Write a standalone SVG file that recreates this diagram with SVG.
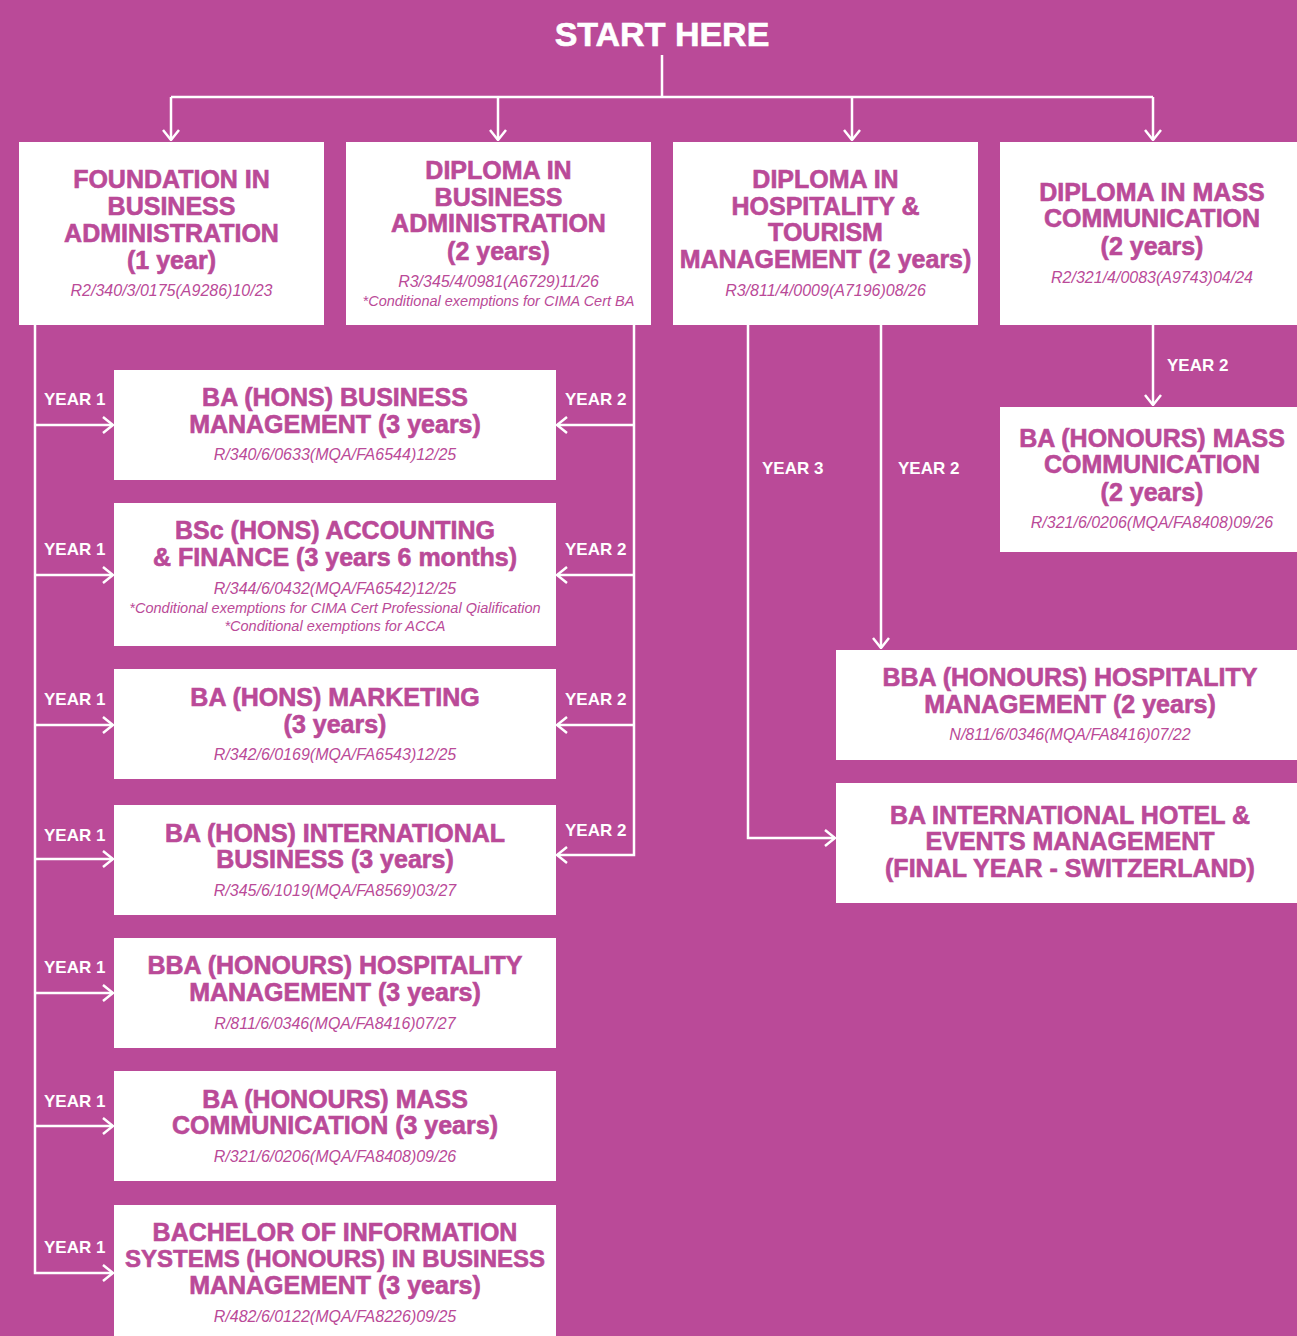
<svg xmlns="http://www.w3.org/2000/svg" width="1297" height="1336" viewBox="0 0 1297 1336">
<defs>
<style>
.bg{fill:#BA4A98}
.box{fill:#FFFFFF}
.t{font-family:"Liberation Sans",Arial,sans-serif;font-weight:bold;font-size:25px;fill:#BA4A98;stroke:#BA4A98;stroke-width:0.6;text-anchor:middle}
.c{font-family:"Liberation Sans",Arial,sans-serif;font-style:italic;font-size:16px;fill:#BA4A98;text-anchor:middle}
.n{font-family:"Liberation Sans",Arial,sans-serif;font-style:italic;font-size:14.5px;fill:#BA4A98;text-anchor:middle}
.y{font-family:"Liberation Sans",Arial,sans-serif;font-weight:bold;font-size:17px;fill:#FFFFFF}
.h{font-family:"Liberation Sans",Arial,sans-serif;font-weight:bold;font-size:34px;fill:#FFFFFF;stroke:#FFFFFF;stroke-width:0.6;text-anchor:middle}
.ln{fill:none;stroke:#FFFFFF;stroke-width:2.5}
</style>
<marker id="ah" viewBox="0 0 12 18" refX="11" refY="9" markerWidth="12" markerHeight="18" markerUnits="userSpaceOnUse" orient="auto">
<path d="M1,1 L11,9 L1,17" fill="none" stroke="#FFFFFF" stroke-width="2.5"/>
</marker>
</defs>
<rect class="bg" x="0" y="0" width="1297" height="1336"/>
<text class="h" x="662" y="46">START HERE</text>

<g id="connectors">
<path class="ln" d="M662,55 V97 M171,97 H1153"/>
<path class="ln" d="M171,97 V140" marker-end="url(#ah)"/>
<path class="ln" d="M498,97 V140" marker-end="url(#ah)"/>
<path class="ln" d="M852,97 V140" marker-end="url(#ah)"/>
<path class="ln" d="M1153,97 V140" marker-end="url(#ah)"/>
<path class="ln" d="M35,325 V1273 H113" marker-end="url(#ah)"/>
<path class="ln" d="M35,425 H113" marker-end="url(#ah)"/>
<path class="ln" d="M35,575 H113" marker-end="url(#ah)"/>
<path class="ln" d="M35,725 H113" marker-end="url(#ah)"/>
<path class="ln" d="M35,859 H113" marker-end="url(#ah)"/>
<path class="ln" d="M35,993 H113" marker-end="url(#ah)"/>
<path class="ln" d="M35,1126 H113" marker-end="url(#ah)"/>
<path class="ln" d="M634,325 V855 H557" marker-end="url(#ah)"/>
<path class="ln" d="M634,425 H557" marker-end="url(#ah)"/>
<path class="ln" d="M634,575 H557" marker-end="url(#ah)"/>
<path class="ln" d="M634,725 H557" marker-end="url(#ah)"/>
<path class="ln" d="M748,325 V838 H835" marker-end="url(#ah)"/>
<path class="ln" d="M881,325 V648" marker-end="url(#ah)"/>
<path class="ln" d="M1153,325 V405" marker-end="url(#ah)"/>
<text class="y" x="44" y="405">YEAR 1</text>
<text class="y" x="44" y="555">YEAR 1</text>
<text class="y" x="44" y="705">YEAR 1</text>
<text class="y" x="44" y="841">YEAR 1</text>
<text class="y" x="44" y="973">YEAR 1</text>
<text class="y" x="44" y="1107">YEAR 1</text>
<text class="y" x="44" y="1253">YEAR 1</text>
<text class="y" x="565" y="405">YEAR 2</text>
<text class="y" x="565" y="555">YEAR 2</text>
<text class="y" x="565" y="705">YEAR 2</text>
<text class="y" x="565" y="836">YEAR 2</text>
<text class="y" x="762" y="474">YEAR 3</text>
<text class="y" x="898" y="474">YEAR 2</text>
<text class="y" x="1167" y="371">YEAR 2</text>
</g>

<g id="foundation">
<rect class="box" x="19" y="142" width="305" height="183"/>
<text class="t" x="171.5" y="188">FOUNDATION IN</text>
<text class="t" x="171.5" y="215">BUSINESS</text>
<text class="t" x="171.5" y="242">ADMINISTRATION</text>
<text class="t" x="171.5" y="269">(1 year)</text>
<text class="c" x="171.5" y="296">R2/340/3/0175(A9286)10/23</text>
</g>

<g id="dip-business">
<rect class="box" x="346" y="142" width="305" height="183"/>
<text class="t" x="498.5" y="179">DIPLOMA IN</text>
<text class="t" x="498.5" y="206">BUSINESS</text>
<text class="t" x="498.5" y="232">ADMINISTRATION</text>
<text class="t" x="498.5" y="260">(2 years)</text>
<text class="c" x="498.5" y="287">R3/345/4/0981(A6729)11/26</text>
<text class="n" x="498.5" y="306">*Conditional exemptions for CIMA Cert BA</text>
</g>

<g id="dip-hospitality">
<rect class="box" x="673" y="142" width="305" height="183"/>
<text class="t" x="825.5" y="188">DIPLOMA IN</text>
<text class="t" x="825.5" y="215">HOSPITALITY &amp;</text>
<text class="t" x="825.5" y="241">TOURISM</text>
<text class="t" x="825.5" y="268">MANAGEMENT (2 years)</text>
<text class="c" x="825.5" y="296">R3/811/4/0009(A7196)08/26</text>
</g>

<g id="dip-mass">
<rect class="box" x="1000" y="142" width="297" height="183"/>
<text class="t" x="1152" y="201">DIPLOMA IN MASS</text>
<text class="t" x="1152" y="227">COMMUNICATION</text>
<text class="t" x="1152" y="255">(2 years)</text>
<text class="c" x="1152" y="283">R2/321/4/0083(A9743)04/24</text>
</g>

<g id="ba-business">
<rect class="box" x="114" y="370" width="442" height="110"/>
<text class="t" x="335" y="406">BA (HONS) BUSINESS</text>
<text class="t" x="335" y="433">MANAGEMENT (3 years)</text>
<text class="c" x="335" y="460">R/340/6/0633(MQA/FA6544)12/25</text>
</g>

<g id="bsc-accounting">
<rect class="box" x="114" y="503" width="442" height="143"/>
<text class="t" x="335" y="539">BSc (HONS) ACCOUNTING</text>
<text class="t" x="335" y="566">&amp; FINANCE (3 years 6 months)</text>
<text class="c" x="335" y="594">R/344/6/0432(MQA/FA6542)12/25</text>
<text class="n" x="335" y="613">*Conditional exemptions for CIMA Cert Professional Qialification</text>
<text class="n" x="335" y="631">*Conditional exemptions for ACCA</text>
</g>

<g id="ba-marketing">
<rect class="box" x="114" y="669" width="442" height="110"/>
<text class="t" x="335" y="706">BA (HONS) MARKETING</text>
<text class="t" x="335" y="733">(3 years)</text>
<text class="c" x="335" y="760">R/342/6/0169(MQA/FA6543)12/25</text>
</g>

<g id="ba-intl-business">
<rect class="box" x="114" y="805" width="442" height="110"/>
<text class="t" x="335" y="842">BA (HONS) INTERNATIONAL</text>
<text class="t" x="335" y="868">BUSINESS (3 years)</text>
<text class="c" x="335" y="896">R/345/6/1019(MQA/FA8569)03/27</text>
</g>

<g id="bba-hosp-3">
<rect class="box" x="114" y="938" width="442" height="110"/>
<text class="t" x="335" y="974">BBA (HONOURS) HOSPITALITY</text>
<text class="t" x="335" y="1001">MANAGEMENT (3 years)</text>
<text class="c" x="335" y="1029">R/811/6/0346(MQA/FA8416)07/27</text>
</g>

<g id="ba-mass-3">
<rect class="box" x="114" y="1071" width="442" height="110"/>
<text class="t" x="335" y="1108">BA (HONOURS) MASS</text>
<text class="t" x="335" y="1134">COMMUNICATION (3 years)</text>
<text class="c" x="335" y="1162">R/321/6/0206(MQA/FA8408)09/26</text>
</g>

<g id="bis">
<rect class="box" x="114" y="1205" width="442" height="131"/>
<text class="t" x="335" y="1241">BACHELOR OF INFORMATION</text>
<text class="t" x="335" y="1267" style="font-size:24px">SYSTEMS (HONOURS) IN BUSINESS</text>
<text class="t" x="335" y="1294">MANAGEMENT (3 years)</text>
<text class="c" x="335" y="1322">R/482/6/0122(MQA/FA8226)09/25</text>
</g>

<g id="ba-mass-2">
<rect class="box" x="1000" y="407" width="297" height="145"/>
<text class="t" x="1152" y="447">BA (HONOURS) MASS</text>
<text class="t" x="1152" y="473">COMMUNICATION</text>
<text class="t" x="1152" y="501">(2 years)</text>
<text class="c" x="1152" y="528">R/321/6/0206(MQA/FA8408)09/26</text>
</g>

<g id="bba-hosp-2">
<rect class="box" x="836" y="650" width="461" height="110"/>
<text class="t" x="1070" y="686">BBA (HONOURS) HOSPITALITY</text>
<text class="t" x="1070" y="713">MANAGEMENT (2 years)</text>
<text class="c" x="1070" y="740">N/811/6/0346(MQA/FA8416)07/22</text>
</g>

<g id="ba-intl-hotel">
<rect class="box" x="836" y="783" width="461" height="120"/>
<text class="t" x="1070" y="824">BA INTERNATIONAL HOTEL &amp;</text>
<text class="t" x="1070" y="850">EVENTS MANAGEMENT</text>
<text class="t" x="1070" y="877">(FINAL YEAR - SWITZERLAND)</text>
</g>
</svg>
